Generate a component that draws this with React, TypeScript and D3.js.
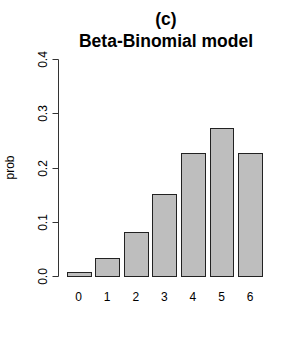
import React, { useEffect, useRef } from 'react';
import * as d3 from 'd3';

const categories = ['0', '1', '2', '3', '4', '5', '6'];
const probs = [0.007, 0.033, 0.081, 0.151, 0.227, 0.273, 0.227];
const yTicks = [0, 0.1, 0.2, 0.3, 0.4];

export default function App() {
  const svgRef = useRef<SVGSVGElement>(null);

  useEffect(() => {
    if (!svgRef.current) return;
    const svg = d3.select(svgRef.current);
    svg.selectAll('*').remove();

    const font = "'Liberation Sans', Arial, sans-serif";

    // R barplot layout: width 1, space 0.2
    const x = d3.scaleLinear().domain([0.2, 8.4]).range([66.7, 262]);
    const y = d3.scaleLinear().domain([0, 0.4]).range([276, 59]);
    const axisX = 58.5;

    // bars
    svg.append('g')
      .selectAll('rect')
      .data(probs)
      .enter()
      .append('rect')
      .attr('x', (d, i) => Math.round(x(0.2 + 1.2 * i)) + 0.5)
      .attr('y', d => Math.round(y(d)) + 0.5)
      .attr('width', (d, i) => Math.round(x(1.2 + 1.2 * i)) - Math.round(x(0.2 + 1.2 * i)))
      .attr('height', d => Math.round(y(0)) - Math.round(y(d)))
      .attr('fill', '#bebebe')
      .attr('stroke', '#222')
      .attr('stroke-width', 1);

    // x labels
    svg.append('g')
      .selectAll('text')
      .data(categories)
      .enter()
      .append('text')
      .attr('x', (d, i) => x(0.7 + 1.2 * i))
      .attr('y', 301)
      .attr('text-anchor', 'middle')
      .style('font-family', font)
      .style('font-size', '12px')
      .text(d => d);

    // y axis
    const yAxis = svg.append('g');
    yAxis.append('line')
      .attr('x1', axisX).attr('x2', axisX)
      .attr('y1', Math.round(y(0.4)) + 0.5).attr('y2', Math.round(y(0)) + 0.5)
      .attr('stroke', '#333');
    yTicks.forEach(t => {
      const ty = Math.round(y(t)) + 0.5;
      yAxis.append('line')
        .attr('x1', axisX - 6).attr('x2', axisX)
        .attr('y1', ty).attr('y2', ty)
        .attr('stroke', '#333');
      yAxis.append('text')
        .attr('transform', `translate(${axisX - 16},${ty}) rotate(-90)`)
        .attr('text-anchor', 'middle')
        .attr('dy', '0.35em')
        .style('font-family', font)
        .style('font-size', '12px')
        .text(d3.format('.1f')(t));
    });

    // y label
    svg.append('text')
      .attr('transform', `translate(10,${y(0.2)}) rotate(-90)`)
      .attr('text-anchor', 'middle')
      .attr('dy', '0.35em')
      .style('font-family', font)
      .style('font-size', '12px')
      .text('prob');

    // titles
    const cx = 166;
    svg.append('text')
      .attr('x', cx).attr('y', 25)
      .attr('text-anchor', 'middle')
      .style('font-family', font)
      .style('font-size', '17.5px')
      .style('font-weight', 'bold')
      .text('(c)');
    svg.append('text')
      .attr('x', cx).attr('y', 47)
      .attr('text-anchor', 'middle')
      .style('font-family', font)
      .style('font-size', '17.5px')
      .style('font-weight', 'bold')
      .text('Beta-Binomial model');
  }, []);

  return (
    <svg ref={svgRef} width={300} height={350}
      style={{ position: 'absolute', left: 0, top: 0, background: '#fff' }} />
  );
}
